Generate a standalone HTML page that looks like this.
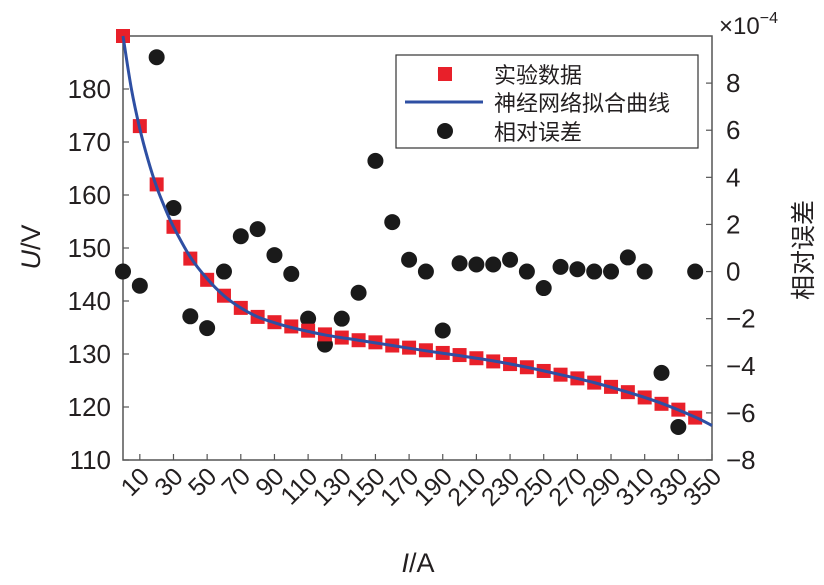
<!DOCTYPE html>
<html><head><meta charset="utf-8"><style>
body{margin:0;background:#fff}
svg text{font-family:"Liberation Sans","Noto Sans CJK SC",sans-serif;fill:#231f20}
</style></head><body>
<svg id="c" width="824" height="580" viewBox="0 0 824 580"></svg>
<script>
const currents=[0,10,20,30,40,50,60,70,80,90,100,110,120,130,140,150,160,170,180,190,200,210,220,230,240,250,260,270,280,290,300,310,320,330,340];
const voltages=[190,173,162,154,148,144,141,138.7,137,136,135.2,134.4,133.7,133.1,132.6,132.2,131.6,131.2,130.7,130.2,129.8,129.2,128.6,128.1,127.5,126.8,126.1,125.4,124.6,123.8,122.8,121.8,120.6,119.5,118];
const relErrors=[0,-0.6,9.1,2.7,-1.9,-2.4,0,1.5,1.8,0.7,-0.1,-2.0,-3.1,-2.0,-0.9,4.7,2.1,0.5,0,-2.5,0.35,0.3,0.3,0.5,0,-0.7,0.2,0.1,0,0,0.6,0,-4.3,-6.6,0];
const fitI=[0,5,10,15,20,25,30,40,50,60,70,80,90,100,120,140,160,180,200,220,240,260,280,300,320,340,350];
const fitU=[190,180,172.5,166.5,161.5,157.5,154,148.3,144.2,141,138.7,137,135.9,135,133.6,132.6,131.6,130.6,129.7,128.7,127.5,126.1,124.6,122.8,120.7,118.1,116.5];
const xTicks=[10,30,50,70,90,110,130,150,170,190,210,230,250,270,290,310,330,350];
const yTicks=[110,120,130,140,150,160,170,180];
const y2Ticks=[-8,-6,-4,-2,0,2,4,6,8];

const L=123,R=712,T=36,B=460;
const sx=v=>L+(v-0)/350*(R-L);
const sy=v=>B-(v-110)/80*(B-T);
const sy2=v=>B-(v+8)/18*(B-T);
const svg=document.getElementById('c');
const NS='http://www.w3.org/2000/svg';
function mk(tag,attrs,parent){const e=document.createElementNS(NS,tag);for(const k in attrs)e.setAttribute(k,attrs[k]);(parent||svg).appendChild(e);return e;}

let ax=mk('path',{d:`M${L},${T}H${R}V${B}H${L}Z`,fill:'none',stroke:'#555','stroke-width':1.5});



xTicks.forEach(t=>{
  const x=sx(t);
  mk('line',{x1:x,x2:x,y1:B,y2:B-6,stroke:'#555','stroke-width':1.2});
  const tx=mk('text',{x:x+11,y:B+18,'font-size':25,'text-anchor':'end',transform:`rotate(-45 ${x+11} ${B+18})`});
  tx.textContent=t;
  
  
});
yTicks.forEach(t=>{
  const y=sy(t);
  mk('line',{x1:L,x2:L+6,y1:y,y2:y,stroke:'#555','stroke-width':1.2});
  const tx=mk('text',{x:L-12,y:y+9,'font-size':26,'text-anchor':'end'});
  tx.textContent=t;
  
  
});
y2Ticks.forEach(t=>{
  const y=sy2(t);
  mk('line',{x1:R,x2:R-6,y1:y,y2:y,stroke:'#555','stroke-width':1.2});
  const tx=mk('text',{x:R+14,y:y+9,'font-size':26,'text-anchor':'start'});
  tx.textContent=(t<0?'\u2212'+(-t):t);
  
  
});
let ex=mk('text',{x:719,y:34,'font-size':24});
ex.innerHTML='×10<tspan dy="-11" font-size="16">−4</tspan>';



relErrors.forEach((v,i)=>{
  const c=mk('circle',{cx:sx(currents[i]),cy:sy2(v),r:8,fill:'#1a1a1a'});
  
  
});
voltages.forEach((v,i)=>{
  const s=mk('rect',{x:sx(currents[i])-7,y:sy(v)-7,width:14,height:14,fill:'#e8202a'});
  
  
});
const pts=fitI.map((v,i)=>[sx(v),sy(fitU[i])]);
let d=`M${pts[0][0]},${pts[0][1]}`;
for(let i=0;i<pts.length-1;i++){
  const p0=pts[Math.max(0,i-1)],p1=pts[i],p2=pts[i+1],p3=pts[Math.min(pts.length-1,i+2)];
  d+=`C${p1[0]+(p2[0]-p0[0])/6},${p1[1]+(p2[1]-p0[1])/6} ${p2[0]-(p3[0]-p1[0])/6},${p2[1]-(p3[1]-p1[1])/6} ${p2[0]},${p2[1]}`;
}
const fl=mk('path',{d:d,fill:'none',stroke:'#2e4fa3','stroke-width':3});



const lg=mk('g',{});


mk('rect',{x:396,y:55,width:302,height:93,fill:'#fff',stroke:'#333','stroke-width':1.2},lg);
mk('rect',{x:438,y:67,width:14,height:14,fill:'#e8202a'},lg);
mk('line',{x1:405,x2:483,y1:102,y2:102,stroke:'#2e4fa3','stroke-width':3},lg);
mk('circle',{cx:445,cy:131,r:8,fill:'#1a1a1a'},lg);
[['实验数据',83],['神经网络拟合曲线',111],['相对误差',140]].forEach(([t,y])=>{
  const tx=mk('text',{x:494,y:y,'font-size':22},lg);tx.textContent=t;
  
  
});

let yl=mk('text',{x:40,y:247,'font-size':27,'text-anchor':'middle',transform:'rotate(-90 40 247)'});
yl.innerHTML='<tspan font-style="italic">U</tspan>/V';


let y2l=mk('text',{x:812,y:250,'font-size':25,'text-anchor':'middle',transform:'rotate(-90 812 250)'});
y2l.textContent='相对误差';


let xl=mk('text',{x:418,y:572,'font-size':27,'text-anchor':'middle'});
xl.innerHTML='<tspan font-style="italic">I</tspan>/A';


</script>
</body></html>
